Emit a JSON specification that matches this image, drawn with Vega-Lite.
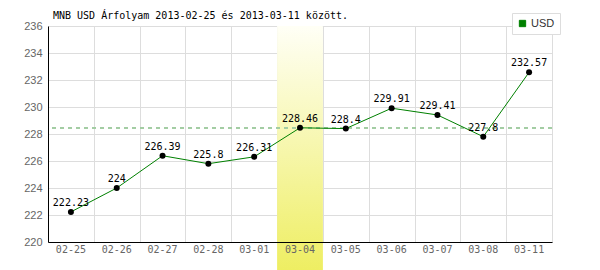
{
  "$schema": "https://vega.github.io/schema/vega-lite/v6.json",
  "width": 504,
  "height": 216,
  "autosize": {"type": "none"},
  "padding": {"left": 48, "top": 26, "right": 48, "bottom": 28},
  "background": "white",
  "title": {
    "text": "MNB USD Árfolyam 2013-02-25 és 2013-03-11 között.",
    "anchor": "start",
    "frame": "group",
    "font": "DejaVu Sans Mono",
    "fontSize": 10,
    "fontWeight": "normal",
    "color": "#000000",
    "dx": 5,
    "offset": -8
  },
  "config": {
    "view": {"stroke": null},
    "axisY": {
      "tickCount": 8,
      "grid": true,
      "gridColor": "#dddddd",
      "domainColor": "#000000",
      "ticks": false,
      "labelFont": "Liberation Sans",
      "labelFontSize": 11,
      "labelColor": "#666666",
      "labelPadding": 6,
      "labelOverlap": false,
      "title": null,
      "zindex": 0
    }
  },
  "data": {
    "values": [
      {"date": "02-25", "rate": 222.23, "label": "222.23"},
      {"date": "02-26", "rate": 224, "label": "224"},
      {"date": "02-27", "rate": 226.39, "label": "226.39"},
      {"date": "02-28", "rate": 225.8, "label": "225.8"},
      {"date": "03-01", "rate": 226.31, "label": "226.31"},
      {"date": "03-04", "rate": 228.46, "label": "228.46"},
      {"date": "03-05", "rate": 228.4, "label": "228.4"},
      {"date": "03-06", "rate": 229.91, "label": "229.91"},
      {"date": "03-07", "rate": 229.41, "label": "229.41"},
      {"date": "03-08", "rate": 227.8, "label": "227.8"},
      {"date": "03-11", "rate": 232.57, "label": "232.57"}
    ]
  },
  "resolve": {"axis": {"x": "independent"}},
  "layer": [
    {
      "transform": [{"filter": "datum.date === '03-04'"}],
      "mark": {
        "type": "rect",
        "color": {
          "gradient": "linear",
          "x1": 0, "y1": 0, "x2": 0, "y2": 1,
          "stops": [
            {"offset": 0, "color": "#fffff6"},
            {"offset": 1, "color": "#eeee62"}
          ]
        }
      },
      "encoding": {
        "x": {
          "field": "date",
          "type": "ordinal",
          "scale": {"paddingInner": 0, "paddingOuter": 0},
          "axis": {
            "orient": "bottom",
            "labels": false,
            "ticks": false,
            "domain": false,
            "grid": true,
            "gridColor": "#dddddd",
            "tickBand": "extent",
            "title": null,
            "zindex": 0
          }
        },
        "y": {
          "datum": 236,
          "type": "quantitative",
          "scale": {"domain": [220, 236], "nice": false, "zero": false}
        },
        "y2": {"datum": 217.9}
      }
    },
    {
      "mark": {"type": "rule", "color": "#a3cca3", "strokeDash": [4, 4], "strokeWidth": 1},
      "encoding": {"y": {"datum": 228.46, "type": "quantitative"}}
    },
    {
      "mark": {"type": "line", "strokeWidth": 1},
      "encoding": {
        "x": {
          "field": "date",
          "type": "ordinal",
          "axis": {
            "orient": "bottom",
            "grid": false,
            "ticks": false,
            "domainColor": "#000000",
            "labelFont": "DejaVu Sans Mono",
            "labelFontSize": 10,
            "labelColor": "#666666",
            "labelAngle": 0,
            "labelPadding": 2,
            "title": null,
            "zindex": 1
          }
        },
        "y": {"field": "rate", "type": "quantitative"},
        "color": {
          "datum": "USD",
          "type": "nominal",
          "scale": {"range": ["#008000"]},
          "legend": {
            "orient": "none",
            "legendX": 464,
            "legendY": -13,
            "title": null,
            "padding": 5,
            "strokeColor": "#dddddd",
            "fillColor": "#ffffff",
            "labelFont": "Liberation Sans",
            "labelFontSize": 11,
            "labelColor": "#333333",
            "symbolSize": 40,
            "labelOffset": 3,
            "encode": {
              "symbols": {
                "update": {
                  "shape": {"value": "square"},
                  "fill": {"value": "#008000"},
                  "stroke": {"value": "#336633"},
                  "strokeWidth": {"value": 1}
                }
              }
            }
          }
        }
      }
    },
    {
      "mark": {"type": "circle", "color": "#000000", "opacity": 1, "size": 36},
      "encoding": {
        "x": {"field": "date", "type": "ordinal", "axis": null},
        "y": {"field": "rate", "type": "quantitative"}
      }
    },
    {
      "mark": {
        "type": "text",
        "font": "DejaVu Sans Mono",
        "fontSize": 10,
        "color": "#000000",
        "baseline": "alphabetic",
        "align": "center",
        "dy": -6
      },
      "encoding": {
        "x": {"field": "date", "type": "ordinal", "axis": null},
        "y": {"field": "rate", "type": "quantitative"},
        "text": {"field": "label"}
      }
    }
  ]
}
